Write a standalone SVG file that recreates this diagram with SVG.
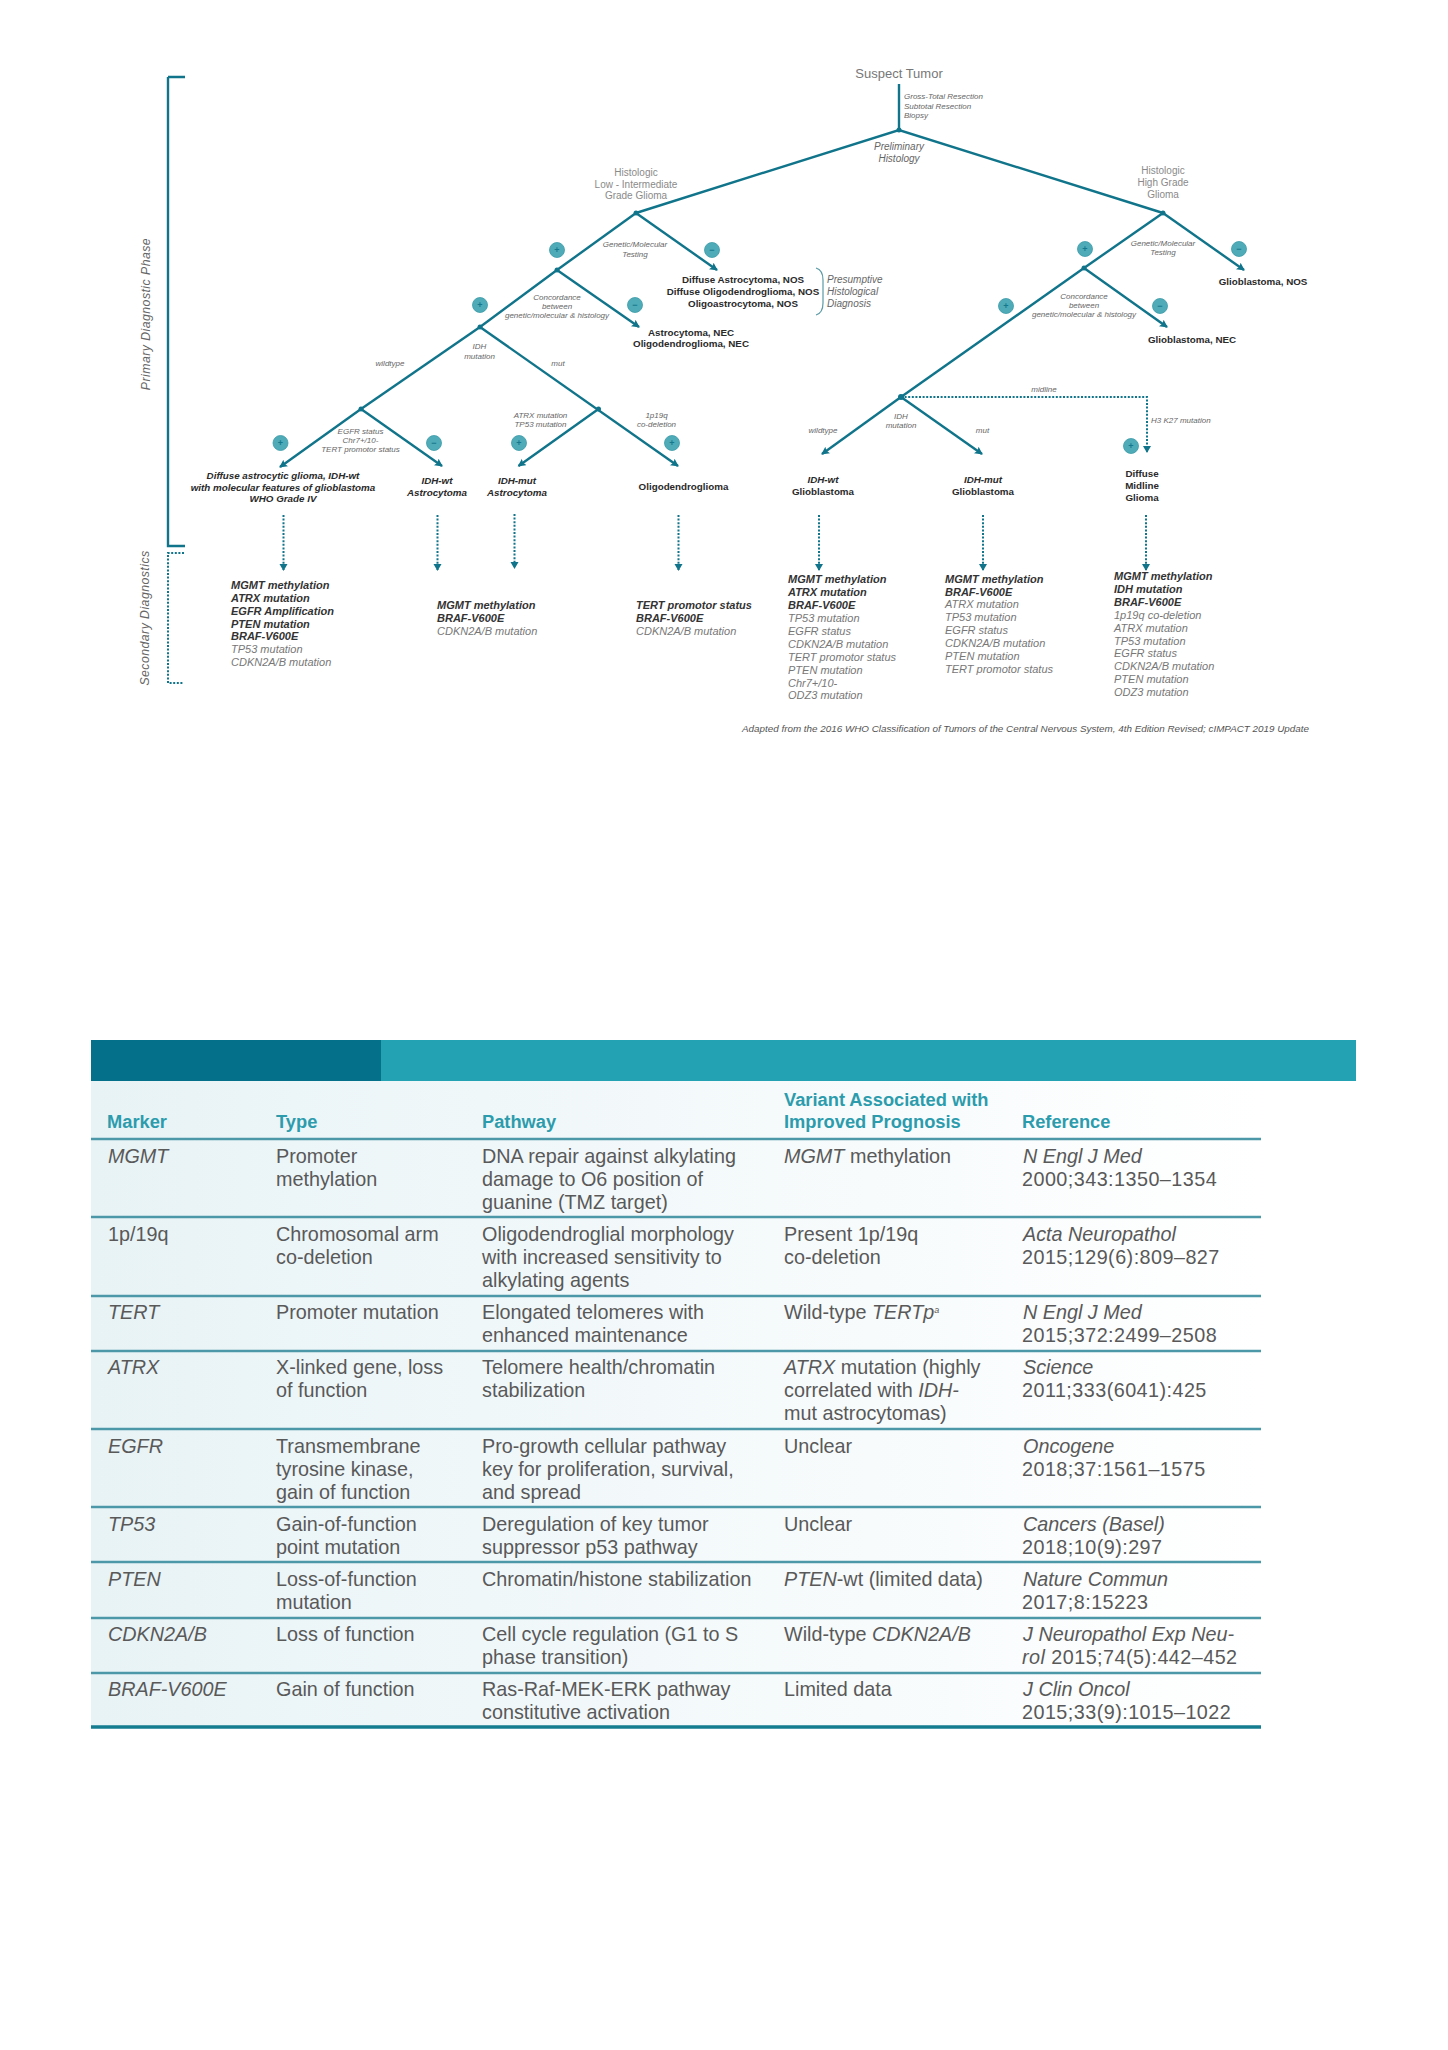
<svg xmlns="http://www.w3.org/2000/svg" width="1448" height="2050" viewBox="0 0 1448 2050">
<style>
text{font-family:"Liberation Sans",Arial,sans-serif}
.ln{fill:none;stroke:#10748a;stroke-width:2.4}
.ar{marker-end:url(#ah)}
.dt{fill:none;stroke:#10748a;stroke-width:2;stroke-dasharray:2 1.6}
.dar{marker-end:url(#dh)}
.dot{fill:#10748a}
.c{text-anchor:middle}
.hist{font-size:10px;fill:#8a8a8a}
.note{font-size:8px;font-style:italic;fill:#666}
.res{font-size:9.800px;font-weight:bold;fill:#2a2a2a}
.resi{font-size:9.800px;font-weight:bold;font-style:italic;fill:#2a2a2a}
.sign circle{fill:#4fabb8;stroke:#3a9aa8;stroke-width:.8}
.sign text{font-size:9px;font-weight:bold;fill:#16788c;text-anchor:middle}
.side{font-size:12.300px;font-style:italic;fill:#666;letter-spacing:.45px}
.lb{font-size:11px;font-weight:bold;font-style:italic;fill:#333}
.li{font-size:11px;font-style:italic;fill:#777}
.th{font-size:18.300px;font-weight:bold;fill:#2c9cad}
.td{font-size:19.800px;fill:#595959}
.i{font-style:italic}
.n{letter-spacing:.45px}
.rule{stroke:#4c97a8;stroke-width:2.6}
</style>
<defs>
<marker id="ah" markerUnits="userSpaceOnUse" markerWidth="10" markerHeight="10" refX="7" refY="4" orient="auto"><path d="M0 0L8 4L0 8L1.5 4Z" fill="#10748a"/></marker>
<marker id="dh" markerUnits="userSpaceOnUse" markerWidth="10" markerHeight="10" refX="6" refY="4" orient="auto"><path d="M0 0L7 4L0 8Z" fill="#10748a"/></marker>
<linearGradient id="bg" x1="0" x2="1" y1="0" y2="0"><stop offset="0" stop-color="#e8f3f6"/><stop offset="1" stop-color="#ffffff"/></linearGradient>
</defs>
<rect width="1448" height="2050" fill="#ffffff"/>

<g id="connectors">
<path class="ln" d="M168 77H185M168 77V546H185"/>
<path class="dt" d="M184 553H168V683H184"/>
<path class="ln" d="M899 84V130"/>
<path class="ln" d="M636 213L899 130L1163 213"/>
<path class="ln ar" d="M636 213L717 270"/>
<path class="ln" d="M636 213L557 270"/>
<path class="ln ar" d="M557 270L639 327"/>
<path class="ln" d="M557 270L480 327"/>
<path class="ln" d="M480 327L361 409"/>
<path class="ln ar" d="M480 327L678 466"/>
<path class="ln ar" d="M361 409L280 467"/>
<path class="ln ar" d="M361 409L442 466"/>
<path class="ln ar" d="M598.500 409L518.500 466"/>
<path class="ln ar" d="M1163 213L1244 270"/>
<path class="ln" d="M1163 213L1084 268"/>
<path class="ln ar" d="M1084 268L1167 327"/>
<path class="ln" d="M1084 268L901 397"/>
<path class="ln ar" d="M901 397L822 454"/>
<path class="ln ar" d="M901 397L982 454"/>
<path class="dt dar" d="M901 397H1147V452"/>
<path class="dt dar" d="M283.500 515V570"/>
<path class="dt dar" d="M437.500 515V570"/>
<path class="dt dar" d="M514.500 514V568"/>
<path class="dt dar" d="M678.500 515V570"/>
<path class="dt dar" d="M819 515V570"/>
<path class="dt dar" d="M983 515V570"/>
<path class="dt dar" d="M1146 515V570"/>
<path d="M816 268Q823 270 823 280V303Q823 313 816 315" fill="none" stroke="#5a9aa6" stroke-width="1.200"/>
<g class="dot">
<circle cx="899" cy="130" r="2.500"/><circle cx="636" cy="213" r="2.500"/><circle cx="1163" cy="213" r="2.500"/>
<circle cx="557" cy="270" r="2.500"/><circle cx="480" cy="327" r="2.500"/><circle cx="361" cy="409" r="2.500"/>
<circle cx="598.500" cy="409" r="2.500"/><circle cx="1084" cy="268" r="2.500"/><circle cx="901" cy="397" r="3"/>
</g>
</g>

<g id="phase-labels">
<text class="side c" transform="translate(150 314) rotate(-90)">Primary Diagnostic Phase</text>
<text class="side c" transform="translate(149 618) rotate(-90)">Secondary Diagnostics</text>
</g>

<g id="signs" class="sign">
<g><circle cx="557" cy="250" r="7.500"/><text x="557" y="253">+</text></g>
<g><circle cx="712" cy="250" r="7.500"/><text x="712" y="253">−</text></g>
<g><circle cx="480" cy="305" r="7.500"/><text x="480" y="308">+</text></g>
<g><circle cx="635" cy="305" r="7.500"/><text x="635" y="308">−</text></g>
<g><circle cx="280.500" cy="443" r="7.500"/><text x="280.500" y="446">+</text></g>
<g><circle cx="434" cy="443" r="7.500"/><text x="434" y="446">−</text></g>
<g><circle cx="519" cy="443" r="7.500"/><text x="519" y="446">+</text></g>
<g><circle cx="672" cy="443" r="7.500"/><text x="672" y="446">+</text></g>
<g><circle cx="1085" cy="249" r="7.500"/><text x="1085" y="252">+</text></g>
<g><circle cx="1239" cy="249" r="7.500"/><text x="1239" y="252">−</text></g>
<g><circle cx="1006" cy="306" r="7.500"/><text x="1006" y="309">+</text></g>
<g><circle cx="1160" cy="306" r="7.500"/><text x="1160" y="309">−</text></g>
<g><circle cx="1131" cy="446" r="7.500"/><text x="1131" y="449">+</text></g>
</g>

<g id="edge-labels" class="note">
<text x="904" y="99">Gross-Total Resection</text><text x="904" y="108.500">Subtotal Resection</text><text x="904" y="118">Biopsy</text>
<text class="c" x="899" y="150" style="font-size:10px">Preliminary</text><text class="c" x="899" y="162" style="font-size:10px">Histology</text>
<text class="c" x="635" y="247">Genetic/Molecular</text><text class="c" x="635" y="257">Testing</text>
<text class="c" x="557" y="300">Concordance</text><text class="c" x="557" y="309">between</text><text class="c" x="557" y="318">genetic/molecular &amp; histology</text>
<text class="c" x="479.500" y="349">IDH</text><text class="c" x="479.500" y="359">mutation</text>
<text class="c" x="390" y="366">wildtype</text><text class="c" x="558" y="366">mut</text>
<text class="c" x="360.500" y="434">EGFR status</text><text class="c" x="360.500" y="443">Chr7+/10-</text><text class="c" x="360.500" y="452">TERT promotor status</text>
<text class="c" x="540.500" y="418">ATRX mutation</text><text class="c" x="540.500" y="427">TP53 mutation</text>
<text class="c" x="656.500" y="418">1p19q</text><text class="c" x="656.500" y="427">co-deletion</text>
<text class="c" x="1163" y="246">Genetic/Molecular</text><text class="c" x="1163" y="255">Testing</text>
<text class="c" x="1084" y="299">Concordance</text><text class="c" x="1084" y="308">between</text><text class="c" x="1084" y="317">genetic/molecular &amp; histology</text>
<text class="c" x="1044" y="392">midline</text><text x="1151" y="423">H3 K27 mutation</text>
<text class="c" x="901" y="419">IDH</text><text class="c" x="901" y="428">mutation</text>
<text class="c" x="823" y="433">wildtype</text><text class="c" x="982.500" y="433">mut</text>
<g style="font-size:10px"><text x="827" y="283">Presumptive</text><text x="827" y="295">Histological</text><text x="827" y="307">Diagnosis</text></g>
</g>

<g id="node-suspect-tumor"><text class="c" x="899" y="78" style="font-size:13px;fill:#777">Suspect Tumor</text></g>
<g id="node-low-grade" class="hist"><text class="c" x="636" y="176">Histologic</text><text class="c" x="636" y="188">Low - Intermediate</text><text class="c" x="636" y="199">Grade Glioma</text></g>
<g id="node-high-grade" class="hist"><text class="c" x="1163" y="174">Histologic</text><text class="c" x="1163" y="186">High Grade</text><text class="c" x="1163" y="198">Glioma</text></g>
<g id="node-nos-low" class="res"><text class="c" x="743" y="283">Diffuse Astrocytoma, NOS</text><text class="c" x="743" y="295">Diffuse Oligodendroglioma, NOS</text><text class="c" x="743" y="307">Oligoastrocytoma, NOS</text></g>
<g id="node-nec-low" class="res"><text class="c" x="691" y="336">Astrocytoma, NEC</text><text class="c" x="691" y="347">Oligodendroglioma, NEC</text></g>
<g id="node-gbm-nos" class="res"><text class="c" x="1263" y="285">Glioblastoma, NOS</text></g>
<g id="node-gbm-nec" class="res"><text class="c" x="1192" y="343">Glioblastoma, NEC</text></g>
<g id="node-diffuse-astrocytic" class="resi"><text class="c" x="283" y="479">Diffuse astrocytic glioma, IDH-wt</text><text class="c" x="283" y="491">with molecular features of glioblastoma</text><text class="c" x="283" y="502">WHO Grade IV</text></g>
<g id="node-idhwt-astro" class="resi"><text class="c" x="437" y="484">IDH-wt</text><text class="c" x="437" y="496">Astrocytoma</text></g>
<g id="node-idhmut-astro" class="resi"><text class="c" x="517" y="484">IDH-mut</text><text class="c" x="517" y="496">Astrocytoma</text></g>
<g id="node-oligo" class="res"><text class="c" x="683.500" y="490">Oligodendroglioma</text></g>
<g id="node-idhwt-gbm" class="res"><text class="c i" x="823" y="483">IDH-wt</text><text class="c" x="823" y="495">Glioblastoma</text></g>
<g id="node-idhmut-gbm" class="res"><text class="c i" x="983" y="483">IDH-mut</text><text class="c" x="983" y="495">Glioblastoma</text></g>
<g id="node-dmg" class="res"><text class="c" x="1142" y="477">Diffuse</text><text class="c" x="1142" y="489">Midline</text><text class="c" x="1142" y="501">Glioma</text></g>

<g id="list-1">
<text class="lb" x="231" y="589">MGMT methylation</text><text class="lb" x="231" y="602">ATRX mutation</text><text class="lb" x="231" y="615">EGFR Amplification</text><text class="lb" x="231" y="628">PTEN mutation</text><text class="lb" x="231" y="640">BRAF-V600E</text><text class="li" x="231" y="653">TP53 mutation</text><text class="li" x="231" y="666">CDKN2A/B mutation</text>
</g>
<g id="list-2"><text class="lb" x="437" y="609">MGMT methylation</text><text class="lb" x="437" y="622">BRAF-V600E</text><text class="li" x="437" y="635">CDKN2A/B mutation</text></g>
<g id="list-3"><text class="lb" x="636" y="609">TERT promotor status</text><text class="lb" x="636" y="622">BRAF-V600E</text><text class="li" x="636" y="635">CDKN2A/B mutation</text></g>
<g id="list-4">
<text class="lb" x="788" y="583">MGMT methylation</text><text class="lb" x="788" y="596">ATRX mutation</text><text class="lb" x="788" y="609">BRAF-V600E</text><text class="li" x="788" y="622">TP53 mutation</text><text class="li" x="788" y="635">EGFR status</text><text class="li" x="788" y="648">CDKN2A/B mutation</text><text class="li" x="788" y="661">TERT promotor status</text><text class="li" x="788" y="674">PTEN mutation</text><text class="li" x="788" y="687">Chr7+/10-</text><text class="li" x="788" y="699">ODZ3 mutation</text>
</g>
<g id="list-5">
<text class="lb" x="945" y="583">MGMT methylation</text><text class="lb" x="945" y="596">BRAF-V600E</text><text class="li" x="945" y="608">ATRX mutation</text><text class="li" x="945" y="621">TP53 mutation</text><text class="li" x="945" y="634">EGFR status</text><text class="li" x="945" y="647">CDKN2A/B mutation</text><text class="li" x="945" y="660">PTEN mutation</text><text class="li" x="945" y="673">TERT promotor status</text>
</g>
<g id="list-6">
<text class="lb" x="1114" y="580">MGMT methylation</text><text class="lb" x="1114" y="593">IDH mutation</text><text class="lb" x="1114" y="606">BRAF-V600E</text><text class="li" x="1114" y="619">1p19q co-deletion</text><text class="li" x="1114" y="632">ATRX mutation</text><text class="li" x="1114" y="645">TP53 mutation</text><text class="li" x="1114" y="657">EGFR status</text><text class="li" x="1114" y="670">CDKN2A/B mutation</text><text class="li" x="1114" y="683">PTEN mutation</text><text class="li" x="1114" y="696">ODZ3 mutation</text>
</g>
<text x="742" y="732" style="font-size:9.860px;font-style:italic;fill:#555">Adapted from the 2016 WHO Classification of Tumors of the Central Nervous System, 4th Edition Revised; cIMPACT 2019 Update</text>

<g id="table">
<rect x="91" y="1081" width="1170" height="646" fill="url(#bg)"/>
<rect x="91" y="1040" width="1265" height="41" fill="#22a2b3"/>
<rect x="91" y="1040" width="290" height="41" fill="#04708a"/>
<g class="rule">
<path d="M91 1139H1261M91 1217H1261M91 1296H1261M91 1351H1261M91 1429H1261M91 1507H1261M91 1562H1261M91 1618H1261M91 1673H1261"/>
</g>
<path d="M91 1727H1261" stroke="#147d90" stroke-width="3.500"/>
<g class="th">
<text x="107" y="1128">Marker</text><text x="276" y="1128">Type</text><text x="482" y="1128">Pathway</text><text x="784" y="1106">Variant Associated with</text><text x="784" y="1128">Improved Prognosis</text><text x="1022" y="1128">Reference</text>
</g>
<g class="td">
<text class="i" x="108" y="1163">MGMT</text><text x="276" y="1163">Promoter</text><text x="276" y="1186">methylation</text><text x="482" y="1163">DNA repair against alkylating</text><text x="482" y="1186">damage to O6 position of</text><text x="482" y="1209">guanine (TMZ target)</text><text x="784" y="1163"><tspan class="i">MGMT</tspan> methylation</text><text class="i" x="1023" y="1163">N Engl J Med</text><text class="n" x="1022" y="1186">2000;343:1350–1354</text>
<text x="108" y="1241">1p/19q</text><text x="276" y="1241">Chromosomal arm</text><text x="276" y="1264">co-deletion</text><text x="482" y="1241">Oligodendroglial morphology</text><text x="482" y="1264">with increased sensitivity to</text><text x="482" y="1287">alkylating agents</text><text x="784" y="1241">Present 1p/19q</text><text x="784" y="1264">co-deletion</text><text class="i" x="1023" y="1241">Acta Neuropathol</text><text class="n" x="1022" y="1264">2015;129(6):809–827</text>
<text class="i" x="108" y="1319">TERT</text><text x="276" y="1319">Promoter mutation</text><text x="482" y="1319">Elongated telomeres with</text><text x="482" y="1342">enhanced maintenance</text><text x="784" y="1319">Wild-type <tspan class="i">TERTp</tspan><tspan class="i" dy="-6" style="font-size:9px">a</tspan></text><text class="i" x="1023" y="1319">N Engl J Med</text><text class="n" x="1022" y="1342">2015;372:2499–2508</text>
<text class="i" x="108" y="1374">ATRX</text><text x="276" y="1374">X-linked gene, loss</text><text x="276" y="1397">of function</text><text x="482" y="1374">Telomere health/chromatin</text><text x="482" y="1397">stabilization</text><text x="784" y="1374"><tspan class="i">ATRX</tspan> mutation (highly</text><text x="784" y="1397">correlated with <tspan class="i">IDH-</tspan></text><text x="784" y="1420">mut astrocytomas)</text><text class="i" x="1023" y="1374">Science</text><text class="n" x="1022" y="1397">2011;333(6041):425</text>
<text class="i" x="108" y="1453">EGFR</text><text x="276" y="1453">Transmembrane</text><text x="276" y="1476">tyrosine kinase,</text><text x="276" y="1499">gain of function</text><text x="482" y="1453">Pro-growth cellular pathway</text><text x="482" y="1476">key for proliferation, survival,</text><text x="482" y="1499">and spread</text><text x="784" y="1453">Unclear</text><text class="i" x="1023" y="1453">Oncogene</text><text class="n" x="1022" y="1476">2018;37:1561–1575</text>
<text class="i" x="108" y="1531">TP53</text><text x="276" y="1531">Gain-of-function</text><text x="276" y="1554">point mutation</text><text x="482" y="1531">Deregulation of key tumor</text><text x="482" y="1554">suppressor p53 pathway</text><text x="784" y="1531">Unclear</text><text class="i" x="1023" y="1531">Cancers (Basel)</text><text class="n" x="1022" y="1554">2018;10(9):297</text>
<text class="i" x="108" y="1586">PTEN</text><text x="276" y="1586">Loss-of-function</text><text x="276" y="1609">mutation</text><text x="482" y="1586">Chromatin/histone stabilization</text><text x="784" y="1586"><tspan class="i">PTEN</tspan>-wt (limited data)</text><text class="i" x="1023" y="1586">Nature Commun</text><text class="n" x="1022" y="1609">2017;8:15223</text>
<text class="i" x="108" y="1641">CDKN2A/B</text><text x="276" y="1641">Loss of function</text><text x="482" y="1641">Cell cycle regulation (G1 to S</text><text x="482" y="1664">phase transition)</text><text x="784" y="1641">Wild-type <tspan class="i">CDKN2A/B</tspan></text><text class="i" x="1023" y="1641">J Neuropathol Exp Neu-</text><text class="n" x="1022" y="1664"><tspan class="i">rol</tspan> 2015;74(5):442–452</text>
<text class="i" x="108" y="1696">BRAF-V600E</text><text x="276" y="1696">Gain of function</text><text x="482" y="1696">Ras-Raf-MEK-ERK pathway</text><text x="482" y="1719">constitutive activation</text><text x="784" y="1696">Limited data</text><text class="i" x="1023" y="1696">J Clin Oncol</text><text class="n" x="1022" y="1719">2015;33(9):1015–1022</text>
</g>
</g>
</svg>
